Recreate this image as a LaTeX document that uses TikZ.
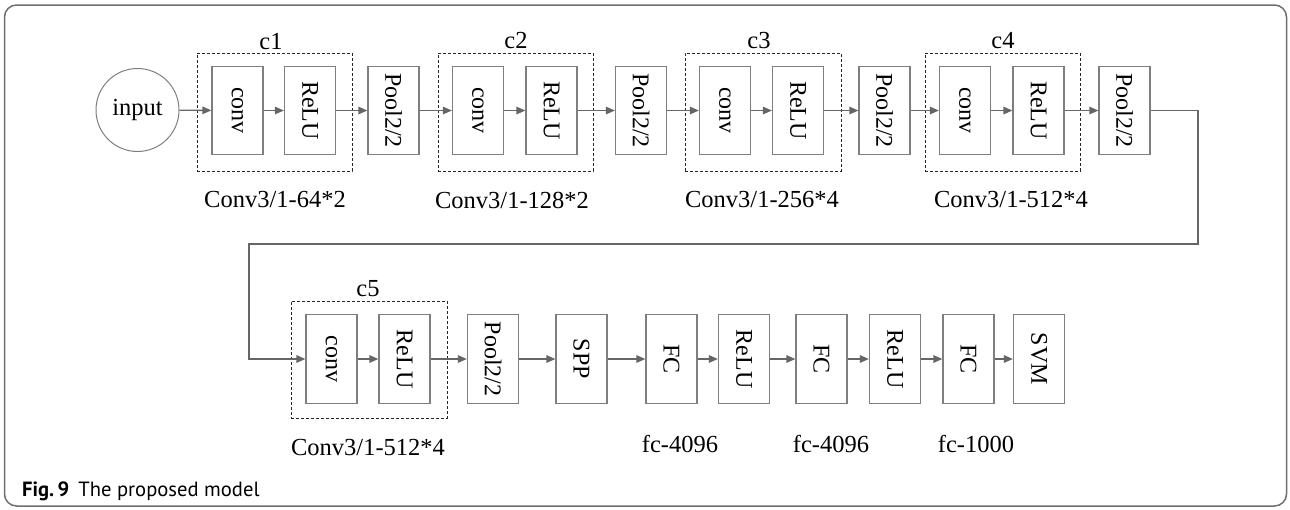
\documentclass[tikz,border=0pt]{standalone}
\usepackage{fontspec}
\setmainfont{Liberation Serif}
\newfontfamily\capfont{PT Sans}
\usepackage{graphicx}
\usetikzlibrary{arrows.meta}
\definecolor{boxgray}{HTML}{7F7F7F}
\definecolor{arrgray}{HTML}{666666}
\definecolor{framegray}{HTML}{6E6E6E}
\tikzset{
  blk/.style={draw=boxgray, line width=1.2pt, minimum width=51pt, minimum height=88.5pt, inner sep=0pt,
    font=\fontsize{24}{26}\selectfont},
  dbox/.style={draw=black!85, dash pattern=on 3pt off 2pt, line width=0.9pt, inner sep=0pt},
  lbl/.style={font=\fontsize{24.5}{28}\selectfont, inner sep=0pt},
  conn/.style={draw=arrgray, line width=1.4pt, -{Triangle[length=9pt,width=7.5pt]}},
}
\newcommand{\rt}[1]{\rotatebox{-90}{#1}}
\begin{document}
\begin{tikzpicture}[x=1pt,y=-1pt]
\useasboundingbox (0,0) rectangle (1290,509);
% frame
\draw[framegray, line width=1.5pt, rounded corners=12pt] (4.5,5) rectangle (1286.5,506);

% dashed group boxes
\node[dbox, minimum width=155pt, minimum height=118pt] (g1) at (274.5,112) {};
\node[dbox, minimum width=155pt, minimum height=118pt] (g2) at (515.5,112) {};
\node[dbox, minimum width=156pt, minimum height=118pt] (g3) at (763,112) {};
\node[dbox, minimum width=155pt, minimum height=118pt] (g4) at (1002.5,112) {};
\node[dbox, minimum width=156pt, minimum height=117pt] (g5) at (369,359.5) {};

% input
\node[draw=boxgray, line width=1pt, circle, minimum size=83pt, inner sep=0pt, lbl] (in) at (137.5,110) {input};

% row 1
\node[blk] (cv1) at (237.5,110.5) {\rt{conv}};
\node[blk] (re1) at (310,110.5) {\rt{ReLU}};
\node[blk] (po1) at (393.5,110.5) {\rt{Pool2/2}};
\node[blk] (cv2) at (478,110.5) {\rt{conv}};
\node[blk] (re2) at (551.5,110.5) {\rt{ReLU}};
\node[blk] (po2) at (641,110.5) {\rt{Pool2/2}};
\node[blk] (cv3) at (725,110.5) {\rt{conv}};
\node[blk] (re3) at (798,110.5) {\rt{ReLU}};
\node[blk] (po3) at (884.5,110.5) {\rt{Pool2/2}};
\node[blk] (cv4) at (965,110.5) {\rt{conv}};
\node[blk] (re4) at (1038.5,110.5) {\rt{ReLU}};
\node[blk] (po4) at (1124.5,110.5) {\rt{Pool2/2}};

% row 2
\node[blk] (cv5) at (331.5,359) {\rt{conv}};
\node[blk] (re5) at (404.5,359) {\rt{ReLU}};
\node[blk] (po5) at (493,359) {\rt{Pool2/2}};
\node[blk] (spp) at (581.5,359) {\rt{SPP}};
\node[blk] (fc1) at (671.5,359) {\rt{FC}};
\node[blk] (re6) at (744,359) {\rt{ReLU}};
\node[blk] (fc2) at (821.5,359) {\rt{FC}};
\node[blk] (re7) at (895,359) {\rt{ReLU}};
\node[blk] (fc3) at (968.5,359) {\rt{FC}};
\node[blk] (svm) at (1039,359) {\rt{SVM}};

% labels
\node[lbl] (l1) at (271,42) {c1};
\node[lbl] (l2) at (516,41) {c2};
\node[lbl] (l3) at (759,41) {c3};
\node[lbl] (l4) at (1003,41) {c4};
\node[lbl] (l5) at (368,289) {c5};
\node[lbl] (k1) at (275,200) {Conv3/1-64*2};
\node[lbl] (k2) at (512,200) {Conv3/1-128*2};
\node[lbl] (k3) at (762,200) {Conv3/1-256*4};
\node[lbl] (k4) at (1011,200) {Conv3/1-512*4};
\node[lbl] (k5) at (368,448) {Conv3/1-512*4};
\node[lbl] (f1) at (680,444) {fc-4096};
\node[lbl] (f2) at (831,444) {fc-4096};
\node[lbl] (f3) at (976,444) {fc-1000};

% caption
\node[anchor=base west, inner sep=0pt, font=\capfont\fontsize{20.6}{23}\selectfont] (cap) at (22,496)
  {\textbf{Fig.\,9}\hspace{9pt}The proposed model};

% connectors row 1
\draw[conn] (in) -- (cv1);
\draw[conn] (cv1) -- (re1);
\draw[conn] (re1) -- (po1);
\draw[conn] (po1) -- (cv2);
\draw[conn] (cv2) -- (re2);
\draw[conn] (re2) -- (po2);
\draw[conn] (po2) -- (cv3);
\draw[conn] (cv3) -- (re3);
\draw[conn] (re3) -- (po3);
\draw[conn] (po3) -- (cv4);
\draw[conn] (cv4) -- (re4);
\draw[conn] (re4) -- (po4);
% wrap-around
\coordinate (w1) at (1198,110.5);
\coordinate (w2) at (1198,244);
\coordinate (w3) at (249,244);
\coordinate (w4) at (249,359);
\draw[conn] (po4.east) -- (w1) -- (w2) -- (w3) -- (w4) -- (cv5.west);
% row 2
\draw[conn] (cv5) -- (re5);
\draw[conn] (re5) -- (po5);
\draw[conn] (po5) -- (spp);
\draw[conn] (spp) -- (fc1);
\draw[conn] (fc1) -- (re6);
\draw[conn] (re6) -- (fc2);
\draw[conn] (fc2) -- (re7);
\draw[conn] (re7) -- (fc3);
\draw[conn] (fc3) -- (svm);
\end{tikzpicture}
\end{document}
